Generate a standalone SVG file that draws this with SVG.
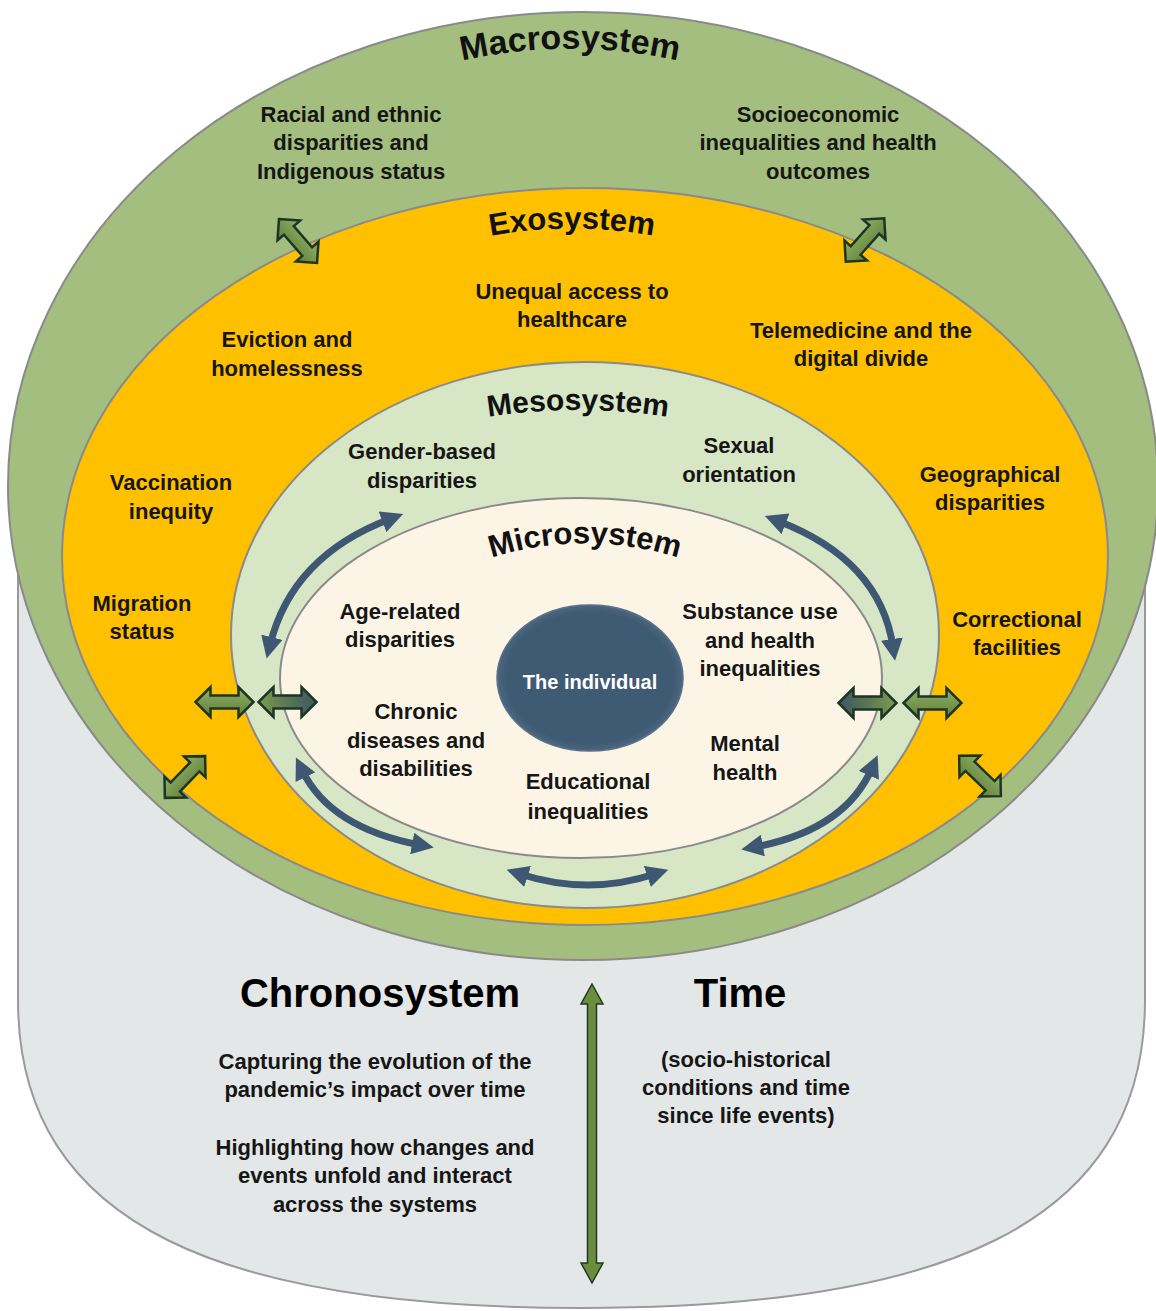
<svg xmlns="http://www.w3.org/2000/svg" xmlns:xlink="http://www.w3.org/1999/xlink" width="1156" height="1311" viewBox="0 0 1156 1311">
  <style>
    .lbl { font-family: "Liberation Sans", Arial, sans-serif; font-weight: bold; font-size: 22px; fill: #161616; text-anchor: middle; }
    .ttl { font-family: "Liberation Sans", Arial, sans-serif; font-weight: bold; fill: #111; text-anchor: middle; }
    .big { font-family: "Liberation Sans", Arial, sans-serif; font-weight: bold; font-size: 40px; fill: #000; text-anchor: middle; }
    .ring { stroke: #8a8a8a; stroke-width: 2; }
    .blk { stroke: #1d3524; stroke-width: 2.5; stroke-linejoin: miter; }
    .curve { fill: none; stroke: #3e5873; stroke-width: 7; marker-start: url(#head); marker-end: url(#head); }
  </style>
  <defs>
    <linearGradient id="gGreen" x1="0" y1="0" x2="0" y2="1">
      <stop offset="0" stop-color="#93b066"/>
      <stop offset="1" stop-color="#5f8038"/>
    </linearGradient>
    <linearGradient id="gMix" x1="0" y1="0" x2="1" y2="0">
      <stop offset="0" stop-color="#3d5666"/>
      <stop offset="0.55" stop-color="#5c7a52"/>
      <stop offset="1" stop-color="#7e9c52"/>
    </linearGradient>
    <radialGradient id="gCore" cx="0.5" cy="0.5" r="0.5">
      <stop offset="0.9" stop-color="#3f5a73"/>
      <stop offset="1" stop-color="#4d6680"/>
    </radialGradient>
    <marker id="head" viewBox="0 0 22 22" refX="8" refY="11" markerWidth="22" markerHeight="22" markerUnits="userSpaceOnUse" orient="auto-start-reverse">
      <path d="M0,0 L22,11 L0,22 Z" fill="#3e5873"/>
    </marker>
    <path id="dbl" d="M-29,0 L-14,-15 L-14,-6.5 L14,-6.5 L14,-15 L29,0 L14,15 L14,6.5 L-14,6.5 L-14,15 Z"/>
    <path id="arcMacro" d="M440,66 A500 500 0 0 1 700,66"/>
    <path id="arcExo" d="M420,255 A450 450 0 0 1 724,255"/>
    <path id="arcMeso" d="M400,438 A580 580 0 0 1 756,438"/>
    <path id="arcMicro" d="M405,601 A310 310 0 0 1 765,601"/>
  </defs>

  <!-- time cylinder -->
  <g id="chronosystem">
    <path d="M18,489 L18,1000 C18,1230 230,1308 581.5,1308 C933,1308 1145,1230 1145,1000 L1145,489 Z" fill="#e4e7e7" stroke="#9a9a9a" stroke-width="2"/>
    <text class="big" x="380" y="1007">Chronosystem</text>
    <text class="lbl" x="375" y="1069">Capturing the evolution of the</text>
    <text class="lbl" x="375" y="1097">pandemic’s impact over time</text>
    <text class="lbl" x="375" y="1155">Highlighting how changes and</text>
    <text class="lbl" x="375" y="1183">events unfold and interact</text>
    <text class="lbl" x="375" y="1212">across the systems</text>
  </g>
  <g id="time">
    <text class="big" x="740" y="1007">Time</text>
    <text class="lbl" x="746" y="1067">(socio-historical</text>
    <text class="lbl" x="746" y="1095">conditions and time</text>
    <text class="lbl" x="746" y="1123">since life events)</text>
  </g>

  <!-- nested system rings -->
  <g id="macrosystem">
    <ellipse class="ring" cx="583" cy="486" rx="575" ry="474" fill="#a3be7e"/>
    <text class="ttl" font-size="34"><textPath href="#arcMacro" startOffset="50%">Macrosystem</textPath></text>
    <text class="lbl" x="351" y="122">Racial and ethnic</text>
    <text class="lbl" x="351" y="150">disparities and</text>
    <text class="lbl" x="351" y="179">Indigenous status</text>
    <text class="lbl" x="818" y="122">Socioeconomic</text>
    <text class="lbl" x="818" y="150">inequalities and health</text>
    <text class="lbl" x="818" y="179">outcomes</text>
  </g>
  <g id="exosystem">
    <ellipse class="ring" cx="585" cy="556.5" rx="523" ry="368.5" fill="#ffc000"/>
    <text class="ttl" font-size="31"><textPath href="#arcExo" startOffset="50%">Exosystem</textPath></text>
    <text class="lbl" x="572" y="299">Unequal access to</text>
    <text class="lbl" x="572" y="327">healthcare</text>
    <text class="lbl" x="287" y="347">Eviction and</text>
    <text class="lbl" x="287" y="376">homelessness</text>
    <text class="lbl" x="861" y="338">Telemedicine and the</text>
    <text class="lbl" x="861" y="366">digital divide</text>
    <text class="lbl" x="171" y="490">Vaccination</text>
    <text class="lbl" x="171" y="519">inequity</text>
    <text class="lbl" x="990" y="482">Geographical</text>
    <text class="lbl" x="990" y="510">disparities</text>
    <text class="lbl" x="142" y="611">Migration</text>
    <text class="lbl" x="142" y="639">status</text>
    <text class="lbl" x="1017" y="627">Correctional</text>
    <text class="lbl" x="1017" y="655">facilities</text>
  </g>
  <g id="mesosystem">
    <ellipse class="ring" cx="585" cy="635" rx="354" ry="273" fill="#d7e6c5"/>
    <text class="ttl" font-size="30"><textPath href="#arcMeso" startOffset="50%">Mesosystem</textPath></text>
    <text class="lbl" x="422" y="459">Gender-based</text>
    <text class="lbl" x="422" y="488">disparities</text>
    <text class="lbl" x="739" y="453">Sexual</text>
    <text class="lbl" x="739" y="482">orientation</text>
  </g>
  <g id="microsystem">
    <ellipse class="ring" cx="581" cy="678" rx="301" ry="180" fill="#fcf5e6"/>
    <text class="ttl" font-size="31"><textPath href="#arcMicro" startOffset="50%">Microsystem</textPath></text>
    <text class="lbl" x="400" y="619">Age-related</text>
    <text class="lbl" x="400" y="647">disparities</text>
    <text class="lbl" x="760" y="619">Substance use</text>
    <text class="lbl" x="760" y="648">and health</text>
    <text class="lbl" x="760" y="676">inequalities</text>
    <text class="lbl" x="416" y="719">Chronic</text>
    <text class="lbl" x="416" y="748">diseases and</text>
    <text class="lbl" x="416" y="776">disabilities</text>
    <text class="lbl" x="588" y="789">Educational</text>
    <text class="lbl" x="588" y="819">inequalities</text>
    <text class="lbl" x="745" y="751">Mental</text>
    <text class="lbl" x="745" y="780">health</text>
  </g>
  <g id="individual">
    <ellipse cx="590" cy="678" rx="93" ry="73" fill="url(#gCore)" stroke="#5a7088" stroke-width="1.5"/>
    <text x="590" y="689" font-family="Liberation Sans, Arial, sans-serif" font-weight="bold" font-size="20" fill="#ffffff" text-anchor="middle">The individual</text>
  </g>

  <!-- interaction arrows -->
  <g id="connectors">
    <use href="#dbl" class="blk" fill="url(#gGreen)" transform="translate(298,241) rotate(49)"/>
    <use href="#dbl" class="blk" fill="url(#gGreen)" transform="translate(865,240) rotate(-48.5)"/>
    <use href="#dbl" class="blk" fill="url(#gGreen)" transform="translate(224.5,702)"/>
    <use href="#dbl" class="blk" fill="url(#gMix)" transform="translate(287.5,702) rotate(180)"/>
    <use href="#dbl" class="blk" fill="url(#gMix)" transform="translate(867.5,703)"/>
    <use href="#dbl" class="blk" fill="url(#gGreen)" transform="translate(932.5,703)"/>
    <use href="#dbl" class="blk" fill="url(#gGreen)" transform="translate(185,777) rotate(-46)"/>
    <use href="#dbl" class="blk" fill="url(#gGreen)" transform="translate(980,776) rotate(44)"/>

    <path class="curve" d="M270,645 Q292,556 390,519"/>
    <path class="curve" d="M778,521 Q880,560 893,647"/>
    <path class="curve" d="M302,770 Q330,828 420,845"/>
    <path class="curve" d="M755,847 Q845,830 872,768"/>
    <path class="curve" d="M520,874 Q588,896 655,874"/>

    <path d="M592,984 L603,1004 L596.5,1004 L596.5,1263 L603,1263 L592,1283 L581,1263 L587.5,1263 L587.5,1004 L581,1004 Z" fill="#6b8e3e" stroke="#1f3a24" stroke-width="1.5"/>
  </g>
</svg>
